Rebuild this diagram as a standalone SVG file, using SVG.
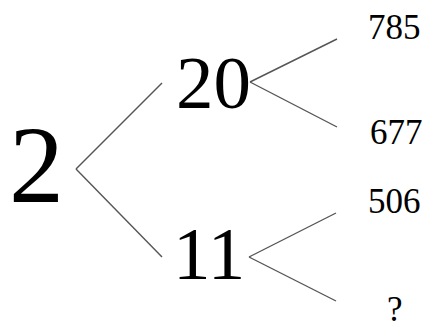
<svg xmlns="http://www.w3.org/2000/svg" width="428" height="323" viewBox="0 0 428 323">
<style>
text{font-family:"Liberation Serif","Times New Roman",serif;fill:#000}
.big{font-size:110px}
.mid{font-size:75px}
.sm{font-size:35px}
line{stroke:#555;stroke-width:1.4}
</style>
<rect width="428" height="323" fill="#fff"/>
<g id="connectors">
<line x1="76" y1="169" x2="162" y2="83"/>
<line x1="76" y1="169" x2="162" y2="257"/>
<line x1="250" y1="82" x2="337" y2="39"/>
<line x1="250" y1="82" x2="337" y2="127"/>
<line x1="249" y1="257" x2="336" y2="213"/>
<line x1="249" y1="257" x2="336" y2="301"/>
</g>
<g id="n2"><text class="big" x="9" y="202">2</text></g>
<g id="n20"><text class="mid" x="176" y="108">20</text></g>
<g id="n11"><text class="mid" x="173" y="279">11</text></g>
<g id="n785"><text class="sm" x="368" y="39">785</text></g>
<g id="n677"><text class="sm" x="370" y="144">677</text></g>
<g id="n506"><text class="sm" x="368" y="213">506</text></g>
<g id="nq"><text class="sm" x="387" y="321">?</text></g>
</svg>
